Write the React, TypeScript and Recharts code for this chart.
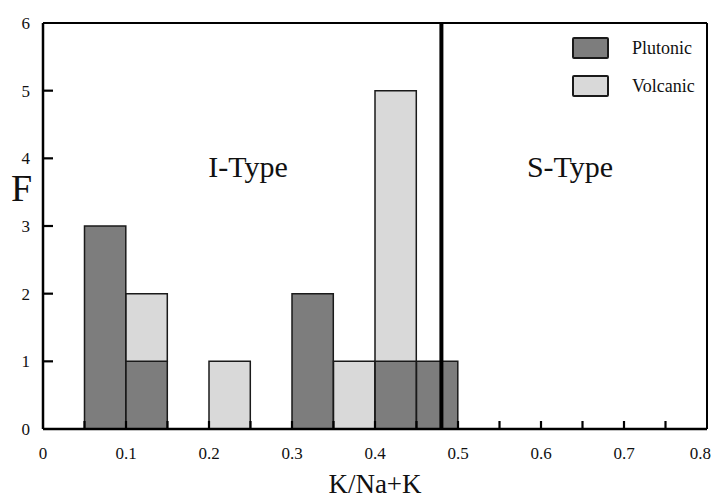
import React from 'react';
import {
  ComposedChart,
  Bar,
  XAxis,
  YAxis,
  ReferenceLine,
  ReferenceDot,
  Legend,
  Label,
} from 'recharts';

// Bin centres (K/Na+K), 0.05-wide bins
const binCenters = [0.075, 0.125, 0.225, 0.325, 0.375, 0.425, 0.475];
const plutonic = [3, 1, 0, 2, 0, 1, 1];
const volcanic = [0, 1, 1, 0, 1, 4, 0];

const xTicks = [0, 0.05, 0.1, 0.15, 0.2, 0.25, 0.3, 0.35, 0.4, 0.45, 0.5, 0.55, 0.6, 0.65, 0.7, 0.75, 0.8];
const yTicks = [0, 1, 2, 3, 4, 5, 6];

const boundary = 0.48;
const regionLabels = [
  { x: 0.247, y: 3.88, text: 'I-Type' },
  { x: 0.635, y: 3.88, text: 'S-Type' },
];

const data = binCenters.map((b, i) => ({ bin: b, Plutonic: plutonic[i], Volcanic: volcanic[i] }));

const FONT = '"Liberation Serif", "Times New Roman", serif';
const DARK = '#7d7d7d';
const LIGHT = '#d9d9d9';
const EDGE = '#1a1a1a';

const XTick = (props: any) => {
  const { x, y, payload, index } = props;
  const v = payload.value;
  const showLabel = index % 2 === 0;
  const inner = index > 0 && index < xTicks.length - 1;
  const last = index === xTicks.length - 1;
  return (
    <g>
      {inner && <line x1={x} y1={y} x2={x} y2={y - 8} stroke="#000" strokeWidth={2.2} />}
      {showLabel && (
        <text
          x={last ? x + 4 : x}
          y={y}
          dy={29.5}
          textAnchor={last ? 'end' : 'middle'}
          fontSize={17}
          fontFamily={FONT}
          fill="#111"
        >
          {String(Number(v.toFixed(2)))}
        </text>
      )}
    </g>
  );
};

const YTick = (props: any) => {
  const { x, y, payload, index } = props;
  const inner = index > 0 && index < yTicks.length - 1;
  return (
    <g>
      {inner && <line x1={x + 13} y1={y} x2={x + 23} y2={y} stroke="#000" strokeWidth={2.2} />}
      <text x={x} y={y} dy="0.355em" textAnchor="end" fontSize={17} fontFamily={FONT} fill="#111">
        {payload.value}
      </text>
    </g>
  );
};

const renderLegend = (props: any) => {
  const { payload } = props;
  return (
    <div style={{ position: 'relative', fontFamily: FONT }}>
      {(payload || []).map((p: any, i: number) => (
        <div key={p.value} style={{ display: 'flex', alignItems: 'center', height: 22, marginBottom: i === 0 ? 16 : 0 }}>
          <div
            style={{
              width: 33,
              height: 18,
              background: p.color,
              border: `2px solid ${EDGE}`,
              borderRadius: 2,
            }}
          />
          <span style={{ marginLeft: 23, fontSize: 18, color: '#111', lineHeight: '22px' }}>{p.value}</span>
        </div>
      ))}
    </div>
  );
};

export default function App() {
  return (
    <div style={{ position: 'absolute', left: 0, top: 0, background: '#fff' }}>
      <ComposedChart
        width={713}
        height={498}
        data={data}
        margin={{ top: 23, right: 6, left: 0, bottom: 0 }}
        barCategoryGap={0}
        barGap={0}
        style={{ fontFamily: FONT }}
      >
        <XAxis
          type="number"
          dataKey="bin"
          domain={[0, 0.8]}
          ticks={xTicks}
          interval={0}
          height={69}
          tickSize={0}
          tickMargin={0}
          tickLine={false}
          axisLine={{ stroke: '#000', strokeWidth: 2.5 }}
          tick={<XTick />}
        >
          <Label value="K/Na+K" position="insideBottom" offset={5} fontSize={27} fontFamily={FONT} fill="#111" />
        </XAxis>
        <YAxis
          type="number"
          domain={[0, 6]}
          ticks={yTicks}
          interval={0}
          width={43}
          tickSize={0}
          tickMargin={13}
          tickLine={false}
          axisLine={{ stroke: '#000', strokeWidth: 2.5 }}
          tick={<YTick />}
        >
          <Label value="F" position="insideLeft" offset={11} dy={-38} fontSize={38} fontFamily={FONT} fill="#111" />
        </YAxis>
        <Legend
          content={renderLegend}
          layout="vertical"
          align="center"
          verticalAlign="middle"
          wrapperStyle={{ top: 37, left: 572, width: 140 }}
        />
        <Bar dataKey="Plutonic" stackId="a" fill={DARK} stroke={EDGE} strokeWidth={1.5} barSize={41.3} isAnimationActive={false} />
        <Bar dataKey="Volcanic" stackId="a" fill={LIGHT} stroke={EDGE} strokeWidth={1.5} barSize={41.3} isAnimationActive={false} />
        <ReferenceLine y={6} stroke="#000" strokeWidth={2} />
        <ReferenceLine x={0.8} stroke="#000" strokeWidth={2} />
        <ReferenceLine x={boundary} stroke="#000" strokeWidth={4} />
        {regionLabels.map((r) => (
          <ReferenceDot
            key={r.text}
            x={r.x}
            y={r.y}
            r={0}
            fill="none"
            stroke="none"
            label={{ value: r.text, position: 'center', fontSize: 30, fontFamily: FONT, fill: '#111' }}
          />
        ))}
      </ComposedChart>
    </div>
  );
}
